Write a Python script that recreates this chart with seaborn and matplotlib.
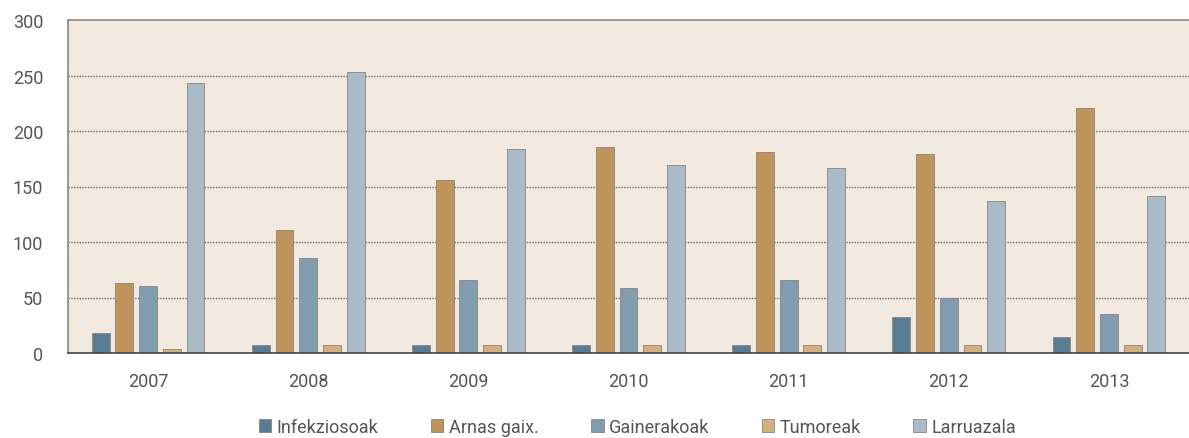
import pandas as pd
import numpy as np
import matplotlib
matplotlib.use("Agg")
import matplotlib.pyplot as plt
import seaborn as sns

# data
years = ["2007", "2008", "2009", "2010", "2011", "2012", "2013"]
infekziosoak = [18, 7, 7, 7, 7, 32, 14]
arnas_gaix = [63, 111, 156, 186, 181, 179, 221]
gainerakoak = [60, 86, 66, 59, 66, 50, 35]
tumoreak = [4, 7, 7, 7, 7, 7, 7]
larruazala = [243, 253, 184, 169, 167, 137, 141]

series = {
    "Infekziosoak": infekziosoak,
    "Arnas gaix.": arnas_gaix,
    "Gainerakoak": gainerakoak,
    "Tumoreak": tumoreak,
    "Larruazala": larruazala,
}
colors = ["#587C93", "#BE945B", "#819CAF", "#D4B07E", "#AABBC7"]

rows = []
for name, vals in series.items():
    for y, v in zip(years, vals):
        rows.append({"Urtea": y, "Taldea": name, "Balioa": v})
df = pd.DataFrame(rows)

sns.set_style("white")
plt.rcParams["font.family"] = ["Roboto", "DejaVu Sans"]
text_col = "#555555"

fig = plt.figure(figsize=(11.89, 4.39), dpi=100)
ax = fig.add_axes([68 / 1189, 1 - 354 / 439, 1 - 68 / 1189, (354 - 21) / 439])
ax.set_facecolor("#F2EAE0")

sns.barplot(data=df, x="Urtea", y="Balioa", hue="Taldea", palette=colors,
            saturation=1, width=0.74, gap=0.25, linewidth=0.6,
            edgecolor="#8a837c", ax=ax, legend=True)

ax.set_ylim(0, 300)
ax.set_xlim(-0.5, 6.5)
ax.set_yticks(range(0, 301, 50))
ax.set_xlabel("")
ax.set_ylabel("")

# dotted gridlines
for v in range(50, 300, 50):
    ax.axhline(v, color="#6f6a66", linestyle=(0, (1, 1)), linewidth=1.0, zorder=0)
ax.set_axisbelow(True)

# group boundary ticks on x
ax.set_xticks(np.arange(-0.5, 7, 1), minor=False)
ax.set_xticklabels([])
ax.set_xticks(range(len(years)), minor=True)
ax.set_xticklabels(years, minor=True)
ax.tick_params(axis="x", which="major", length=15, width=1, color="#555555", direction="out")
ax.tick_params(axis="x", which="minor", length=0, pad=14, labelsize=13, labelcolor=text_col)
ax.tick_params(axis="y", length=15, width=1, color="#777777", direction="out",
               labelsize=13, labelcolor=text_col, pad=3)

for side in ["left", "top"]:
    ax.spines[side].set_color("#8a8580")
    ax.spines[side].set_linewidth(1.2)
ax.spines["bottom"].set_color("#444444")
ax.spines["bottom"].set_linewidth(1.2)
ax.spines["right"].set_visible(False)

handles, labels = ax.get_legend_handles_labels()
ax.legend(handles, labels, loc="center", bbox_to_anchor=(0.508, -0.222), ncol=5,
          frameon=False, fontsize=13, handlelength=0.7, handleheight=0.7,
          handletextpad=0.3, columnspacing=2.9, labelcolor=text_col)

fig.savefig("out.png", dpi=100)
